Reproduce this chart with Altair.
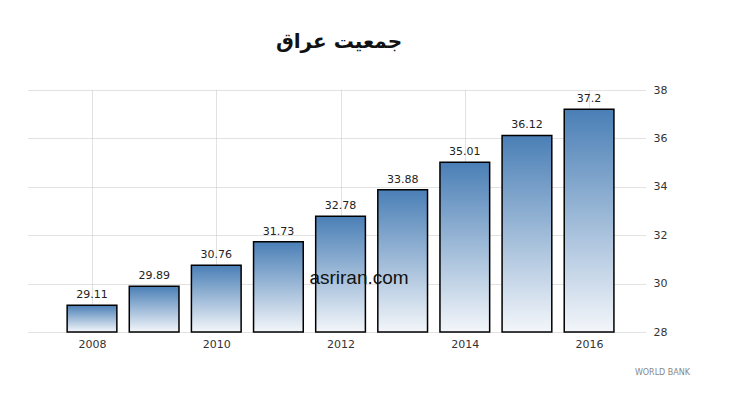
import altair as alt
import pandas as pd

years = [2008, 2009, 2010, 2011, 2012, 2013, 2014, 2015, 2016]
values = [29.11, 29.89, 30.76, 31.73, 32.78, 33.88, 35.01, 36.12, 37.2]
x_ticks = [2008, 2010, 2012, 2014, 2016]
y_ticks = [28, 30, 32, 34, 36, 38]
title_text = "جمعیت عراق"
watermark = "asriran.com"
source = "WORLD BANK"

df = pd.DataFrame({"year": years, "value": values})

FONT = "DejaVu Sans"
W, H = 617, 242

x_scale = alt.Scale(domain=[2006.97, 2016.9], nice=False, zero=False)
y_scale = alt.Scale(domain=[28, 38], nice=False, zero=False)

base = alt.Chart(df).transform_calculate(
    x0="datum.year - 0.4", x1="datum.year + 0.4", base="28"
)

bars = base.mark_bar(
    stroke="black",
    strokeWidth=1.5,
    color=alt.Gradient(
        gradient="linear",
        stops=[
            alt.GradientStop(color="#4a7fb6", offset=0),
            alt.GradientStop(color="#f3f6fa", offset=1),
        ],
        x1=0, x2=0, y1=0, y2=1,
    ),
).encode(
    x=alt.X("x0:Q", scale=x_scale,
            axis=alt.Axis(values=x_ticks, format="d", title=None, orient="bottom",
                          grid=True, gridDash=[1, 1], gridColor="#c4c4c4",
                          domain=False, ticks=False, labelFont=FONT, labelFontSize=11,
                          labelColor="#333333", labelPadding=6)),
    x2="x1:Q",
    y=alt.Y("value:Q", scale=y_scale,
            axis=alt.Axis(values=y_ticks, title=None, orient="right",
                          grid=True, gridDash=[1, 1], gridColor="#c4c4c4",
                          domain=False, ticks=False, labelFont=FONT, labelFontSize=11,
                          labelColor="#333333", labelPadding=8)),
    y2="base:Q",
)

labels = base.mark_text(
    baseline="bottom", dy=-5, font=FONT, fontSize=11, color="#222222"
).encode(
    x=alt.X("year:Q", scale=x_scale),
    y=alt.Y("value:Q", scale=y_scale),
    text=alt.Text("value:Q"),
)

title = alt.Chart(pd.DataFrame({"t": [title_text]})).mark_text(
    font=FONT, fontSize=20, fontWeight="bold", color="#111111", align="center", baseline="middle"
).encode(x=alt.value(311), y=alt.value(-48), text="t:N")

wm = alt.Chart(pd.DataFrame({"t": [watermark]})).mark_text(
    font="Liberation Sans", fontSize=19, color="#111111", align="center", baseline="middle"
).encode(x=alt.value(331), y=alt.value(188), text="t:N")

src = alt.Chart(pd.DataFrame({"t": [source]})).mark_text(
    font=FONT, fontSize=8, color="#888888", align="right", baseline="middle"
).encode(x=alt.value(662), y=alt.value(283), text="t:N")

chart = alt.layer(bars, labels, title, wm, src).properties(
    width=W, height=H,
    autosize=alt.AutoSizeParams(type="none"),
    padding={"left": 20, "top": 82, "right": 77, "bottom": 68},
    background="white",
).configure_view(strokeWidth=0, stroke=None)

chart.save("out.html", embed_options={"renderer": "svg", "actions": False})
